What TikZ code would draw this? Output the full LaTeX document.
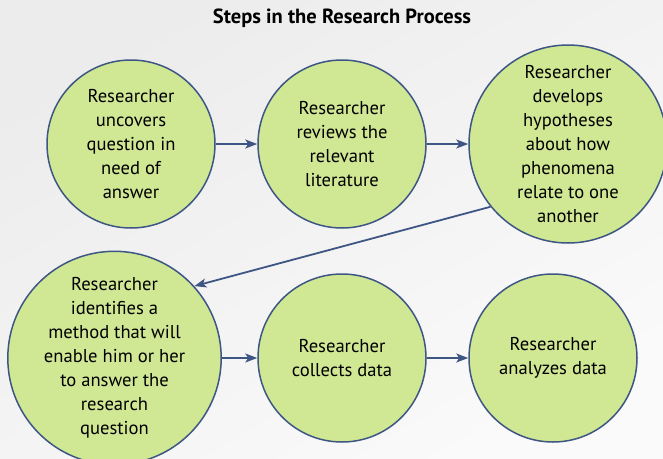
\documentclass[tikz,border=0pt]{standalone}
\usepackage{fontspec}
\setmainfont{PT Sans}
\usetikzlibrary{arrows.meta}
\definecolor{bubblefill}{RGB}{208,231,148}
\definecolor{bubbleline}{RGB}{62,86,132}
\definecolor{bgA}{RGB}{236,236,236}
\definecolor{bgB}{RGB}{250,250,250}
\tikzset{
  stage/.style={circle, draw=bubbleline, line width=1.5pt, fill=bubblefill,
    inner sep=0pt, align=center, text=black,
    font=\fontsize{18.6}{24}\selectfont},
  flow/.style={draw=bubbleline, line width=1.8pt,
    -{Stealth[length=12pt,width=9pt,inset=3pt]}},
  heading/.style={font=\bfseries\fontsize{20.5}{22}\selectfont, text=black}
}
\begin{document}
\begin{tikzpicture}[x=1pt,y=-1pt]
\useasboundingbox (0,0) rectangle (663,458);
\shade[top color=bgA, bottom color=bgB, shading angle=30] (0,0) rectangle (663,458);
\node[heading, anchor=base] (title) at (342,23) {Steps in the Research Process};
\node[stage, minimum size=168pt] (s1) at (131,144) {Researcher\\uncovers\\question in\\need of\\answer};
\node[stage, minimum size=168pt] (s2) at (342,144) {Researcher\\reviews the\\relevant\\literature};
\node[stage, minimum size=198pt] (s3) at (568,144) {Researcher\\develops\\hypotheses\\about how\\phenomena\\relate to one\\another};
\node[stage, minimum size=202pt] (s4) at (114.5,358) {Researcher\\identifies a\\method that will\\enable him or her\\to answer the\\research\\question};
\node[stage, minimum size=168pt] (s5) at (342,358) {Researcher\\collects data};
\node[stage, minimum size=168pt] (s6) at (553,358) {Researcher\\analyzes data};
\draw[flow] (s1) -- (s2);
\draw[flow] (s2) -- (s3);
\draw[flow] (s3.219.6) -- (s4.42);
\draw[flow] (s4.east |- s5.west) -- (s5.west);
\draw[flow] (s5) -- (s6);
\end{tikzpicture}
\end{document}
